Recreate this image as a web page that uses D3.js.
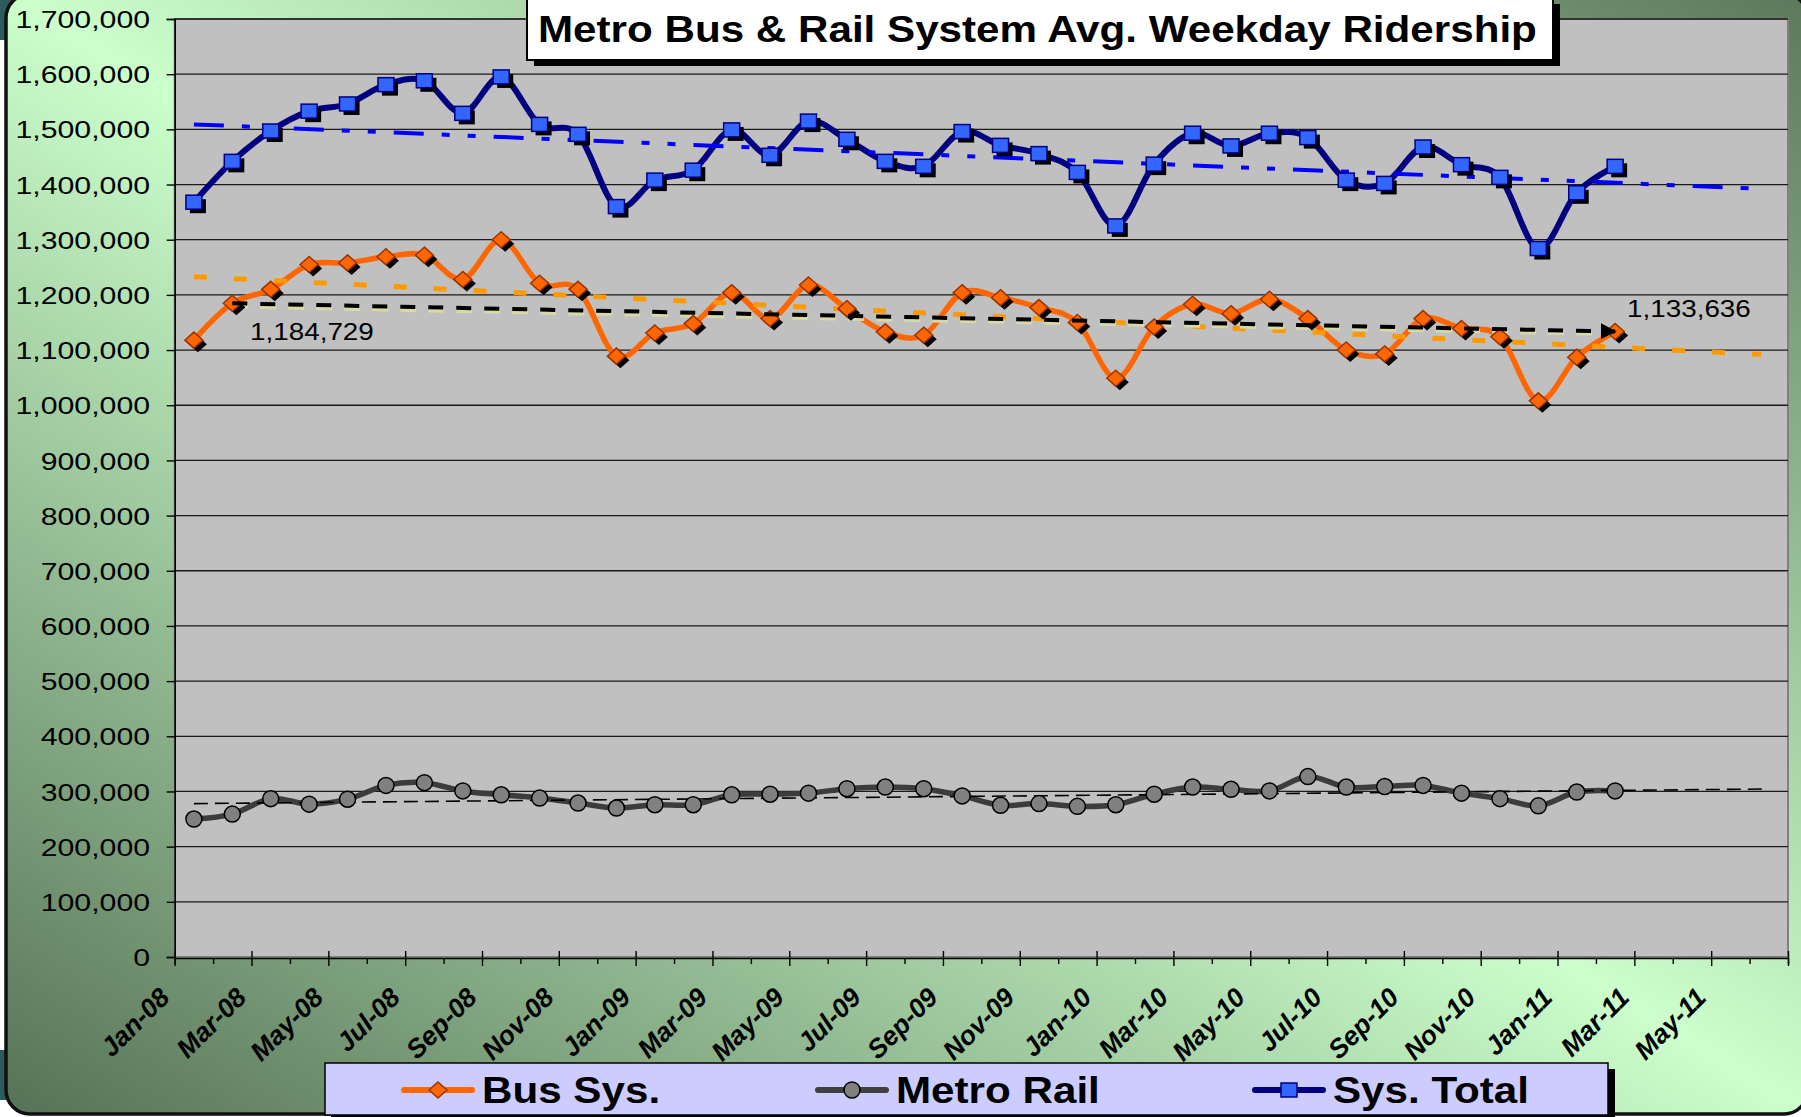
<!DOCTYPE html>
<html>
<head>
<meta charset="utf-8">
<script src="https://cdn.jsdelivr.net/npm/d3@7"></script>
<style>
body { margin: 0; background: #fff; }
svg { display: block; }
text { font-family: "Liberation Sans", Arial, sans-serif; }
</style>
</head>
<body>
<svg id="chart" width="1801" height="1117"></svg>
<script>
// months with data (Jan-08 .. Feb-11)
var months = ["Jan-08","Feb-08","Mar-08","Apr-08","May-08","Jun-08","Jul-08","Aug-08","Sep-08","Oct-08","Nov-08","Dec-08",
              "Jan-09","Feb-09","Mar-09","Apr-09","May-09","Jun-09","Jul-09","Aug-09","Sep-09","Oct-09","Nov-09","Dec-09",
              "Jan-10","Feb-10","Mar-10","Apr-10","May-10","Jun-10","Jul-10","Aug-10","Sep-10","Oct-10","Nov-10","Dec-10",
              "Jan-11","Feb-11"];

var busSys = [1118000,1184729,1210000,1255000,1258000,1269000,1272000,1228000,1300000,1221000,1210000,1089000,
              1131000,1148000,1204000,1157000,1218000,1175000,1133000,1127000,1204000,1195000,1177000,1150000,
              1049000,1142000,1183000,1166000,1192000,1157000,1100000,1093000,1157000,1139000,1124000,1008000,
              1087000,1133636];

var metroRail = [250000,259000,287000,277000,286000,311000,316000,301000,294000,288000,279000,270000,
                 276000,276000,294000,295000,297000,305000,308000,305000,292000,275000,278000,273000,
                 276000,295000,308000,304000,301000,327000,308000,309000,311000,297000,287000,274000,
                 299000,301000];

var sysTotal = [1368000,1442000,1497000,1533000,1546000,1581000,1588000,1529000,1595000,1509000,1491000,1360000,
                1408000,1426000,1499000,1453000,1515000,1482000,1442000,1433000,1496000,1471000,1456000,1422000,
                1325000,1437000,1493000,1470000,1493000,1485000,1408000,1402000,1468000,1436000,1413000,1284000,
                1385000,1433000];

// trend lines: [month index, value] at start and end
var sysTrend  = [[0, 1509000], [40.56, 1393000]];
var busTrend  = [[0, 1233000], [40.8, 1092000]];
var railTrend = [[0, 278000], [41, 304500]];
var busChange      = [[1, 1184729], [37, 1133636]];
var busChangeShade = [[1, 1179000], [37, 1129000]];

var yTicks = [0,100000,200000,300000,400000,500000,600000,700000,800000,900000,
              1000000,1100000,1200000,1300000,1400000,1500000,1600000,1700000];
var tickLabels = ["Jan-08","Mar-08","May-08","Jul-08","Sep-08","Nov-08","Jan-09","Mar-09","May-09","Jul-09",
                  "Sep-09","Nov-09","Jan-10","Mar-10","May-10","Jul-10","Sep-10","Nov-10","Jan-11","Mar-11","May-11"];
var axisMonths = 42;   // Jan-08 .. Jul-11
var title = "Metro Bus & Rail System Avg. Weekday Ridership";

var svg = d3.select("#chart");
var defs = svg.append("defs");

var grad = defs.append("linearGradient").attr("id", "panelGrad")
    .attr("x1", 0).attr("y1", 1).attr("x2", 1).attr("y2", 0);
grad.append("stop").attr("offset", "0%").attr("stop-color", "#567256");
grad.append("stop").attr("offset", "50%").attr("stop-color", "#ccffcc");
grad.append("stop").attr("offset", "100%").attr("stop-color", "#5c785c");

defs.append("marker").attr("id", "arrow")
    .attr("viewBox", "0 0 10 10").attr("refX", 9).attr("refY", 5)
    .attr("markerWidth", 4).attr("markerHeight", 4)
    .attr("orient", "auto")
    .append("path").attr("d", "M0,0L10,5L0,10Z").attr("fill", "#000");

// slide background bits behind the rounded panel
svg.append("rect").attr("x", 0).attr("y", 0).attr("width", 40).attr("height", 40).attr("fill", "#2d5a5a");
svg.append("rect").attr("x", 0).attr("y", 1050).attr("width", 14).attr("height", 50).attr("fill", "#2d5a5a");

svg.append("rect")
    .attr("x", 6).attr("y", -6).attr("width", 1802).attr("height", 1120)
    .attr("rx", 24).attr("ry", 24)
    .attr("fill", "url(#panelGrad)")
    .attr("stroke", "#111").attr("stroke-width", 3.5);

var x = d3.scaleLinear().domain([0, axisMonths]).range([174.7, 1788]);
var y = d3.scaleLinear().domain([0, 1700000]).range([957, 19]);
var px = function(i){ return x(i + 0.5); };

// plot area
svg.append("rect")
    .attr("x", x(0)).attr("y", y(1700000))
    .attr("width", x(axisMonths) - x(0)).attr("height", y(0) - y(1700000))
    .attr("fill", "#c0c0c0").attr("stroke", "#808080").attr("stroke-width", 2);

svg.append("g").selectAll("line")
    .data(yTicks.filter(function(d){ return d > 0; }))
    .enter().append("line")
    .attr("x1", x(0)).attr("x2", x(axisMonths))
    .attr("y1", function(d){ return y(d); }).attr("y2", function(d){ return y(d); })
    .attr("stroke", "#1a1a1a").attr("stroke-width", 1.3);

// y axis
var yAxis = svg.append("g").attr("transform", "translate(" + x(0) + ",0)")
    .call(d3.axisLeft(y).tickValues(yTicks).tickFormat(d3.format(",")).tickSize(8));
yAxis.select(".domain").attr("stroke", "#000").attr("stroke-width", 1.6);
yAxis.selectAll(".tick line").attr("stroke", "#000").attr("stroke-width", 1.4);
yAxis.selectAll(".tick text")
    .attr("font-size", 24).attr("fill", "#000")
    .attr("x", -24.7 / 1.26).attr("dy", "0.36em")
    .attr("transform", "scale(1.26,1)");

// x axis
var xAxis = svg.append("g").attr("transform", "translate(0," + (y(0) + 1) + ")")
    .call(d3.axisBottom(x).tickValues(d3.range(0, axisMonths + 1)).tickSize(6)
        .tickFormat(function(d){ return (d % 2 === 0 && tickLabels[d / 2]) ? tickLabels[d / 2] : ""; }));
xAxis.select(".domain").attr("stroke", "#000").attr("stroke-width", 1.6);
xAxis.selectAll(".tick line")
    .attr("stroke", "#000").attr("stroke-width", 1.4)
    .attr("y1", function(d){ return d % 2 === 0 ? -7 : 0; })
    .attr("y2", function(d){ return d % 2 === 0 ? 8 : 6; });
xAxis.selectAll(".tick text")
    .attr("font-size", 26.5).attr("font-weight", "bold").attr("font-style", "italic").attr("fill", "#000")
    .attr("x", 0).attr("y", 0).attr("dy", 0)
    .attr("text-anchor", "end")
    .attr("transform", "translate(-4,41) rotate(-45)");

// series lines
var line = d3.line()
    .x(function(d, i){ return px(i); })
    .y(function(d){ return y(d); })
    .curve(d3.curveCardinal);

svg.append("path").datum(sysTotal).attr("d", line)
    .attr("fill", "none").attr("stroke", "#000080").attr("stroke-width", 6).attr("stroke-linejoin", "round");
svg.append("path").datum(busSys).attr("d", line)
    .attr("fill", "none").attr("stroke", "#ff6600").attr("stroke-width", 5.5).attr("stroke-linejoin", "round");
svg.append("path").datum(metroRail).attr("d", line)
    .attr("fill", "none").attr("stroke", "#3c3c3c").attr("stroke-width", 5.5).attr("stroke-linejoin", "round");

// trend lines
var seg = d3.line().x(function(d){ return px(d[0]); }).y(function(d){ return y(d[1]); });
svg.append("path").datum(sysTrend).attr("d", seg)
    .attr("fill", "none").attr("stroke", "#0000ff").attr("stroke-width", 4)
    .attr("stroke-dasharray", "30,18,8,18,8,18");
svg.append("path").datum(busTrend).attr("d", seg)
    .attr("fill", "none").attr("stroke", "#ff9900").attr("stroke-width", 5)
    .attr("stroke-dasharray", "13,27");
svg.append("path").datum(railTrend).attr("d", seg)
    .attr("fill", "none").attr("stroke", "#000").attr("stroke-width", 1.6)
    .attr("stroke-dasharray", "14,7");
svg.append("path").datum(busChangeShade).attr("d", seg)
    .attr("fill", "none").attr("stroke", "#d8d8a8").attr("stroke-width", 4)
    .attr("stroke-dasharray", "16,12");

// markers
var diamond = function(cx, cy){ return "M" + cx + "," + (cy - 8) + "L" + (cx + 9) + "," + cy + "L" + cx + "," + (cy + 8) + "L" + (cx - 9) + "," + cy + "Z"; };

var gTot = svg.append("g");
gTot.selectAll(".sh").data(sysTotal).enter().append("rect")
    .attr("x", function(d, i){ return px(i) - 8 + 4; }).attr("y", function(d){ return y(d) - 7 + 4; })
    .attr("width", 16).attr("height", 14).attr("fill", "#000");
gTot.selectAll(".mk").data(sysTotal).enter().append("rect")
    .attr("x", function(d, i){ return px(i) - 8; }).attr("y", function(d){ return y(d) - 7; })
    .attr("width", 16).attr("height", 14)
    .attr("fill", "#3366ff").attr("stroke", "#000080").attr("stroke-width", 1.5);

var gBus = svg.append("g");
gBus.selectAll(".sh").data(busSys).enter().append("path")
    .attr("d", function(d, i){ return diamond(px(i) + 4, y(d) + 4); }).attr("fill", "#000");
gBus.selectAll(".mk").data(busSys).enter().append("path")
    .attr("d", function(d, i){ return diamond(px(i), y(d)); })
    .attr("fill", "#ff6600").attr("stroke", "#993300").attr("stroke-width", 1.5);

svg.append("g").selectAll("circle").data(metroRail).enter().append("circle")
    .attr("cx", function(d, i){ return px(i); }).attr("cy", function(d){ return y(d); })
    .attr("r", 8).attr("fill", "#808080").attr("stroke", "#000").attr("stroke-width", 1.5);

// bus change arrow
svg.append("path").datum(busChange).attr("d", seg)
    .attr("fill", "none").attr("stroke", "#000").attr("stroke-width", 4)
    .attr("stroke-dasharray", "15,13").attr("marker-end", "url(#arrow)");

var fmt = d3.format(",");
svg.append("text")
    .attr("transform", "translate(250,340) scale(1.16,1)")
    .attr("font-size", 24).attr("fill", "#000")
    .text(fmt(busChange[0][1]));
svg.append("text")
    .attr("transform", "translate(1627,317) scale(1.16,1)")
    .attr("font-size", 24).attr("fill", "#000")
    .text(fmt(busChange[1][1]));

// title box
svg.append("rect").attr("x", 534).attr("y", 4).attr("width", 1026).attr("height", 62).attr("fill", "#000");
svg.append("rect").attr("x", 527).attr("y", -2).attr("width", 1026).attr("height", 62)
    .attr("fill", "#fff").attr("stroke", "#000").attr("stroke-width", 2);
svg.append("text")
    .attr("transform", "translate(538,41.5) scale(1.14,1)")
    .attr("font-size", 37).attr("font-weight", "bold").attr("fill", "#000")
    .text(title);

// legend
svg.append("rect").attr("x", 331).attr("y", 1069).attr("width", 1284).attr("height", 50).attr("fill", "#000");
svg.append("rect").attr("x", 325).attr("y", 1063).attr("width", 1283).attr("height", 52)
    .attr("fill", "#ccccff").attr("stroke", "#000").attr("stroke-width", 1.5);

var legendItems = [
    { name: "Bus Sys.",   color: "#ff6600", x0: 404 },
    { name: "Metro Rail", color: "#404040", x0: 818 },
    { name: "Sys. Total", color: "#000080", x0: 1255 }
];
var ly = 1090;
legendItems.forEach(function(it, k){
    svg.append("line").attr("x1", it.x0).attr("x2", it.x0 + 68).attr("y1", ly).attr("y2", ly)
        .attr("stroke", it.color).attr("stroke-width", 6).attr("stroke-linecap", "round");
    var cx = it.x0 + 34;
    if (k === 0) {
        svg.append("path").attr("d", diamond(cx, ly)).attr("fill", "#ff6600").attr("stroke", "#993300").attr("stroke-width", 1.5);
    } else if (k === 1) {
        svg.append("circle").attr("cx", cx).attr("cy", ly).attr("r", 8).attr("fill", "#808080").attr("stroke", "#000").attr("stroke-width", 1.5);
    } else {
        svg.append("rect").attr("x", cx - 8).attr("y", ly - 7).attr("width", 16).attr("height", 14)
            .attr("fill", "#3366ff").attr("stroke", "#000080").attr("stroke-width", 1.5);
    }
    svg.append("text")
        .attr("transform", "translate(" + (it.x0 + 78) + "," + (ly + 12.7) + ") scale(1.14,1)")
        .attr("font-size", 37).attr("font-weight", "bold").attr("fill", "#000")
        .text(it.name);
});
</script>
</body>
</html>
